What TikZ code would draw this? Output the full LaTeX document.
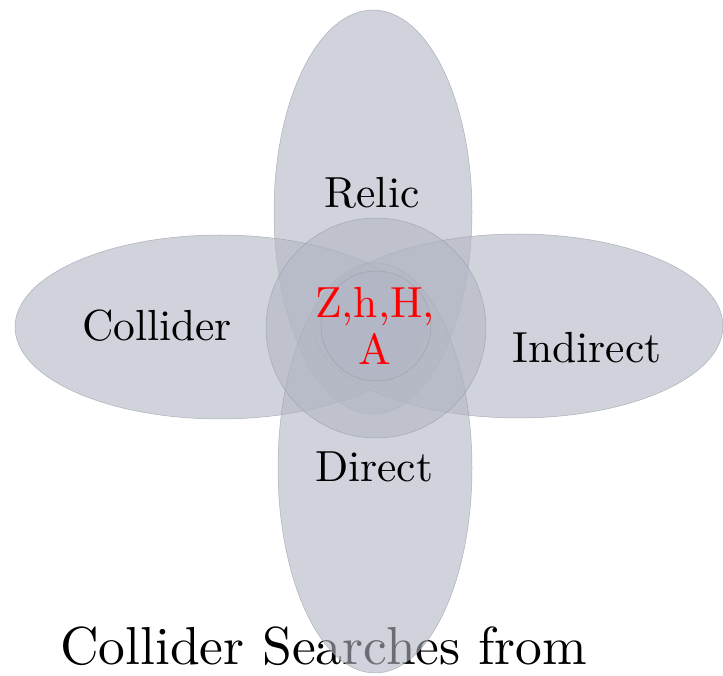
\documentclass[tikz,border=0pt]{standalone}
\usepackage{fontspec}
\setmainfont{lmroman10-regular.otf}
\definecolor{petal}{RGB}{179,182,196}
\definecolor{petaledge}{RGB}{150,154,166}
\tikzset{
  petal/.style={fill=petal,fill opacity=0.6,draw=petaledge,draw opacity=0.7,line width=0.5pt},
  lbl/.style={inner sep=0pt,anchor=base,font=\fontsize{43.5}{47}\selectfont},
  redlbl/.style={inner sep=0pt,anchor=base,text=red,align=center,font=\fontsize{43.5}{47}\selectfont},
}
\begin{document}
\begin{tikzpicture}[x=1pt,y=1pt]
\useasboundingbox (0,0) rectangle (723,675);
% caption drawn beneath the shapes
\node[inner sep=0pt,anchor=base west,font=\fontsize{53.5}{58}\selectfont] (caption) at (60,11) {Collider Searches from};
% petals
\path[petal] (373,463) ellipse [x radius=99, y radius=202];
\path[petal] (220,348) ellipse [x radius=205, y radius=92];
\path[petal] (518,349) ellipse [x radius=205, y radius=92];
\path[petal] (375,207) ellipse [x radius=97, y radius=205];
\path[petal] (376,347) circle [radius=110];
\path[petal] (376,349) circle [radius=55];
% labels
\node[lbl] (relic) at (372,467) {Relic};
\node[lbl] (collider) at (157,334) {Collider};
\node[lbl] (indirect) at (587,312) {Indirect};
\node[lbl] (direct) at (374,193) {Direct};
\node[redlbl] (zhh) at (375,357) {Z,h,H,};
\node[redlbl] (a) at (375,310) {A};
\end{tikzpicture}
\end{document}
